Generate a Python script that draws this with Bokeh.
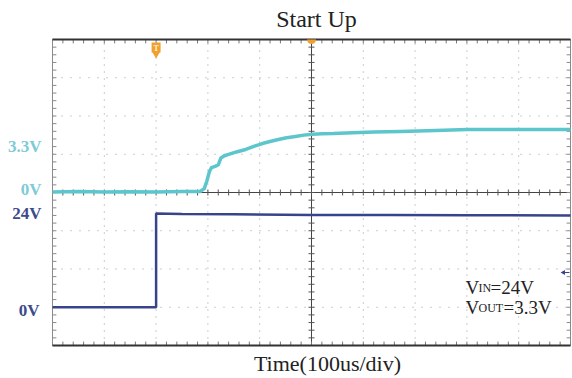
import numpy as np
from bokeh.plotting import figure
from bokeh.models import Range1d
from bokeh.embed import file_html
from bokeh.resources import INLINE
from bokeh.core.properties import value

# ---------------- data ----------------
# CH1: output voltage (cyan), 2 V/div, 0 V at centre line
ch1_time_us = [-500, -450, -400, -350, -300, -250, -215, -207, -202, -197, -193,
               -185, -180, -175, -168, -160, -145, -127, -110, -95, -80, -64,
               -48, -31, -15, 2, 20, 42, 80, 120, 172, 240, 301, 360, 420, 500]
ch1_volts = [0.03, 0.05, 0.02, 0.04, 0.03, 0.05, 0.05, 0.2, 0.6, 1.1, 1.3,
             1.38, 1.45, 1.8, 1.92, 1.99, 2.12, 2.25, 2.42, 2.56, 2.67, 2.77,
             2.86, 2.93, 3.0, 3.05, 3.07, 3.08, 3.13, 3.16, 3.19, 3.24, 3.29,
             3.29, 3.30, 3.30]
ch1_v_per_div = 2.0
ch1_offset_div = 0.0

# CH2: input voltage (dark blue), 10 V/div, 0 V three divisions below centre
ch2_time_us = [-500, -300, -300, -250, -150, 0, 150, 300, 500]
ch2_volts = [0.0, 0.0, 24.5, 24.4, 24.3, 24.15, 24.1, 24.05, 24.0]
ch2_v_per_div = 10.0
ch2_offset_div = -3.0

trigger_time_us = -300
title_text = "Start Up"
xlabel_text = "Time(100us/div)"
ch1_labels = ["3.3V", "0V"]
ch2_labels = ["24V", "0V"]

CYAN = "#5cc6cc"
CYAN_LABEL = "#7dcbd6"
BLUE = "#37448c"
BLUE_LABEL = "#3d4a8c"
ORANGE = "#f0a030"
FONT = "Liberation Serif"

W, H = 572, 378
# scope screen position on the canvas (pixels)
FL, FR, FT, FB = 52, 570, 39, 345
def dx(px):
    return -500 + (px - FL) * 1000.0 / (FR - FL)
def dy(py):
    return 4 - (py - FT) * 8.0 / (FB - FT)

p = figure(width=W, height=H, output_backend="svg", toolbar_location=None,
           x_range=Range1d(dx(0), dx(W)), y_range=Range1d(dy(H), dy(0)),
           x_axis_location=None, y_axis_location=None,
           min_border=0, background_fill_color="white",
           border_fill_color="white", outline_line_color=None)
p.grid.visible = False

# ---------------- graticule ----------------
gx = np.arange(-400, 401, 100)
p.segment(x0=gx, y0=-4, x1=gx, y1=4, line_color="#9a9a9a", line_width=1,
          line_dash="1 6")
gy = np.arange(-3, 3.01, 1)
p.segment(x0=-500, y0=gy, x1=500, y1=gy, line_color="#9a9a9a", line_width=1,
          line_dash="1 8")

p.segment(x0=[-500], y0=[0], x1=[500], y1=[0], line_color="#444444", line_width=1)
p.segment(x0=[0], y0=[-4], x1=[0], y1=[4], line_color="#444444", line_width=1)

mx = np.arange(-500, 501, 20)
my = np.arange(-4, 4.001, 0.2)
tl_y = 3.0 * 8 / 306   # 3 px in y data units
tl_x = 3.0 * 1000 / 518
# centre-line ticks
p.segment(x0=mx, y0=-tl_y, x1=mx, y1=tl_y, line_color="#555555", line_width=1)
p.segment(x0=-tl_x, y0=my, x1=tl_x, y1=my, line_color="#555555", line_width=1)
# border ticks
p.segment(x0=mx, y0=4, x1=mx, y1=4 - 1.3 * tl_y, line_color="#777777", line_width=1)
p.segment(x0=mx, y0=-4, x1=mx, y1=-4 + 1.3 * tl_y, line_color="#777777", line_width=1)
p.segment(x0=-500, y0=my, x1=-500 + 1.3 * tl_x, y1=my, line_color="#888888", line_width=1)
p.segment(x0=500, y0=my, x1=500 - 1.3 * tl_x, y1=my, line_color="#888888", line_width=1)

# screen border
p.segment(x0=[-500, 500], y0=[-4, -4], x1=[-500, 500], y1=[4, 4],
          line_color="#8a8a8a", line_width=1)
p.segment(x0=[-500, -500], y0=[4, -4], x1=[500, 500], y1=[4, -4],
          line_color="#333333", line_width=2)

# ---------------- traces ----------------
ch1_y = [v / ch1_v_per_div + ch1_offset_div for v in ch1_volts]
ch2_y = [v / ch2_v_per_div + ch2_offset_div for v in ch2_volts]
p.line(ch1_time_us, ch1_y, line_color=CYAN, line_width=3.5, line_join="round")
p.line(ch2_time_us, ch2_y, line_color=BLUE, line_width=2.5)

# trigger markers
p.rect(x=[trigger_time_us], y=[dy(47)], width=9, height=10,
       width_units="screen", height_units="screen",
       fill_color=ORANGE, line_color=None)
p.scatter(x=[trigger_time_us], y=[dy(53.5)], marker="inverted_triangle", size=8,
          fill_color=ORANGE, line_color=None)
p.text(x=[trigger_time_us], y=[dy(48)], text=["T"], text_color="#fff3d8",
       text_font_size="8px", text_font_style="bold", text_align="center",
       text_baseline="middle", text_font=value(FONT))
p.wedge(x=[0], y=[4], radius=4.5, radius_units="screen", start_angle=np.pi,
        end_angle=2 * np.pi, fill_color=ORANGE, line_color=None)

# CH2 trigger-level arrow at right edge
p.scatter(x=[dx(563)], y=[dy(272)], marker="triangle", angle=np.pi / 2, size=5,
          fill_color=BLUE, line_color=None)
p.segment(x0=[dx(563)], y0=[dy(272)], x1=[dx(569)], y1=[dy(272)],
          line_color=BLUE, line_width=1)

# ---------------- texts ----------------
def lab(px, py, text, size, color="#222222", align="left", style="normal"):
    # py is the wanted baseline; correct for the renderer's baseline offset
    p.text(x=[dx(px)], y=[dy(py - 0.4 * size)], text=[text], text_font=value(FONT),
           text_font_size=f"{size}px", text_color=color,
           text_align=align, text_baseline="alphabetic",
           text_font_style=style)

lab(316, 28, title_text, 24, align="center")
lab(327, 372, xlabel_text, 22, align="center")

lab(41, 153, ch1_labels[0], 17, CYAN_LABEL, "right", "bold")
lab(41, 196, ch1_labels[1], 17, CYAN_LABEL, "right", "bold")
lab(41, 220, ch2_labels[0], 17, BLUE_LABEL, "right", "bold")
lab(39, 317, ch2_labels[1], 17, BLUE_LABEL, "right", "bold")

lab(465, 295, "V", 19)
lab(478, 292.5, "IN", 12)
lab(490, 295, "=24V", 19)
lab(465, 315, "V", 19)
lab(478, 312.5, "OUT", 12)
lab(503, 315, "=3.3V", 19)

open("out.html", "w").write(file_html(p, INLINE))
